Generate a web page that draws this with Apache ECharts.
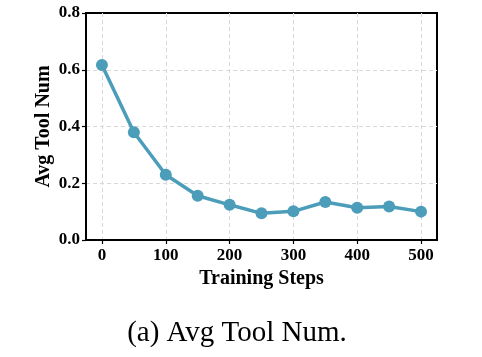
<!DOCTYPE html>
<html>
<head>
<meta charset="utf-8">
<script src="https://cdn.jsdelivr.net/npm/echarts@6/dist/echarts.min.js"></script>
<style>html,body{margin:0;padding:0;background:#fff}#c{width:482px;height:357px}</style>
</head>
<body>
<div id="c"></div>
<script>
const steps = [0, 50, 100, 150, 200, 250, 300, 350, 400, 450, 500];
const avgToolNum = [0.617, 0.380, 0.230, 0.156, 0.124, 0.094, 0.101, 0.134, 0.114, 0.118, 0.100];
const xTicks = [0, 100, 200, 300, 400, 500];
const caption = '(a) Avg Tool Num.';

const chart = echarts.init(document.getElementById('c'), null, {renderer: 'canvas'});
const serif = '"Liberation Serif", "Times New Roman", serif';
chart.setOption({
  animation: false,
  graphic: [{
    type: 'text', x: 237, y: 333,
    style: {text: caption, font: '29px ' + serif, fill: '#000', textAlign: 'center', textVerticalAlign: 'middle'}
  }],
  grid: {left: 86, right: 45, top: 13, bottom: 117, show: true, borderColor: '#000', borderWidth: 2, backgroundColor: 'transparent'},
  xAxis: {
    type: 'value', min: -25, max: 525,
    name: 'Training Steps', nameLocation: 'middle', nameGap: 29, nameMoveOverlap: false,
    nameTextStyle: {fontFamily: serif, fontSize: 20, fontWeight: 'bold', color: '#000'},
    axisLine: {show: true, onZero: false, lineStyle: {color: '#000', width: 2}},
    axisTick: {show: true, customValues: xTicks, length: 4, lineStyle: {color: '#000', width: 1.2}},
    axisLabel: {customValues: xTicks, fontFamily: serif, fontSize: 17, fontWeight: 'bold', color: '#000', margin: 7},
    splitLine: {show: true, lineStyle: {color: '#d8d8d8', type: [4, 3], width: 1}}
  },
  yAxis: {
    type: 'value', min: 0, max: 0.8, interval: 0.2,
    name: 'Avg Tool Num', nameLocation: 'middle', nameGap: 32, nameMoveOverlap: false,
    nameTextStyle: {fontFamily: serif, fontSize: 20, fontWeight: 'bold', color: '#000'},
    axisLine: {show: true, onZero: false, lineStyle: {color: '#000', width: 2}},
    axisTick: {show: true, length: 4, lineStyle: {color: '#000', width: 1.2}},
    axisLabel: {formatter: v => v.toFixed(1), fontFamily: serif, fontSize: 17, fontWeight: 'bold', color: '#000', margin: 6},
    splitLine: {show: true, showMinLine: false, showMaxLine: false, lineStyle: {color: '#d8d8d8', type: [4, 3], width: 1}}
  },
  series: [{
    type: 'line',
    data: steps.map((s, i) => [s, avgToolNum[i]]),
    symbol: 'circle', symbolSize: 12,
    lineStyle: {color: '#4b9dba', width: 3.5},
    itemStyle: {color: '#4b9dba'}
  }]
});
</script>
</body>
</html>
